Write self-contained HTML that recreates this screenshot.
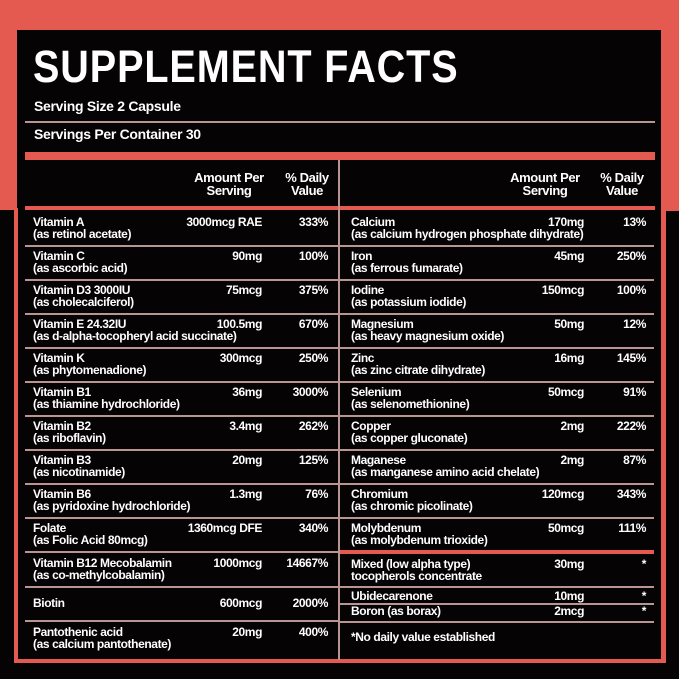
<!DOCTYPE html>
<html><head><meta charset="utf-8"><style>
*{margin:0;padding:0;box-sizing:border-box}
body{width:679px;height:679px;background:#050304;position:relative;overflow:hidden;font-family:"Liberation Sans Narrow","Liberation Sans",sans-serif;color:#fff;font-weight:bold}
.a{position:absolute}
.t{position:absolute;font-size:12px;line-height:11.5px;letter-spacing:-0.4px;white-space:nowrap}
.r{text-align:right}
.sep{position:absolute;height:2px;background:#b89592}
.cor{position:absolute;background:#e55a50}
</style></head><body>
<div class="cor" style="left:0;top:0;width:679px;height:30px"></div>
<div class="cor" style="left:0;top:0;width:17px;height:210px"></div>
<div class="cor" style="left:661px;top:0;width:18px;height:211px"></div>
<div class="a" style="left:33px;top:42px;font-size:45px;line-height:50px;letter-spacing:1px;font-family:'Liberation Sans',sans-serif;transform:scaleX(0.88);transform-origin:0 0;white-space:nowrap">SUPPLEMENT FACTS</div>
<div class="a" style="left:34px;top:98px;font-size:14px;letter-spacing:-0.3px">Serving Size 2 Capsule</div>
<div class="sep" style="left:25px;top:121px;width:630px;height:1.5px"></div>
<div class="a" style="left:34px;top:126px;font-size:14px;letter-spacing:-0.3px">Servings Per Container 30</div>
<div class="cor" style="left:25px;top:152px;width:630px;height:8px"></div>
<div class="cor" style="left:25px;top:206px;width:630px;height:4px"></div>
<div class="cor" style="left:14px;top:208px;width:4px;height:455px"></div>
<div class="cor" style="left:661px;top:208px;width:5px;height:455px"></div>
<div class="cor" style="left:14px;top:659px;width:652px;height:4px"></div>
<div class="a" style="left:338px;top:160px;width:1.5px;height:500px;background:#b89592"></div>
<div class="t" style="left:189px;top:171px;width:80px;text-align:center;font-size:13px;line-height:13px">Amount Per<br>Serving</div>
<div class="t" style="left:280px;top:171px;width:54px;text-align:center;font-size:13px;line-height:13px">% Daily<br>Value</div>
<div class="t" style="left:504px;top:171px;width:82px;text-align:center;font-size:13px;line-height:13px">Amount Per<br>Serving</div>
<div class="t" style="left:594px;top:171px;width:56px;text-align:center;font-size:13px;line-height:13px">% Daily<br>Value</div>

<div class="sep" style="left:25px;top:245px;width:313px"></div>
<div class="sep" style="left:25px;top:279px;width:313px"></div>
<div class="sep" style="left:25px;top:313px;width:313px"></div>
<div class="sep" style="left:25px;top:347px;width:313px"></div>
<div class="sep" style="left:25px;top:381px;width:313px"></div>
<div class="sep" style="left:25px;top:415px;width:313px"></div>
<div class="sep" style="left:25px;top:449px;width:313px"></div>
<div class="sep" style="left:25px;top:483px;width:313px"></div>
<div class="sep" style="left:25px;top:517px;width:313px"></div>
<div class="sep" style="left:25px;top:551px;width:313px"></div>
<div class="sep" style="left:25px;top:586px;width:313px"></div>
<div class="sep" style="left:25px;top:620px;width:313px"></div>

<div class="sep" style="left:340px;top:245px;width:314px"></div>
<div class="sep" style="left:340px;top:279px;width:314px"></div>
<div class="sep" style="left:340px;top:313px;width:314px"></div>
<div class="sep" style="left:340px;top:347px;width:314px"></div>
<div class="sep" style="left:340px;top:381px;width:314px"></div>
<div class="sep" style="left:340px;top:415px;width:314px"></div>
<div class="sep" style="left:340px;top:449px;width:314px"></div>
<div class="sep" style="left:340px;top:483px;width:314px"></div>
<div class="sep" style="left:340px;top:517px;width:314px"></div>
<div class="cor" style="left:340px;top:550px;width:314px;height:4px"></div>
<div class="sep" style="left:340px;top:586px;width:314px"></div>
<div class="sep" style="left:340px;top:603px;width:314px"></div>
<div class="sep" style="left:340px;top:621px;width:314px"></div>

<div class="t" style="left:33px;top:217px">Vitamin A<br>(as retinol acetate)</div><div class="t r" style="right:417px;top:217px">3000mcg RAE</div><div class="t r" style="right:351px;top:217px">333%</div>
<div class="t" style="left:33px;top:251px">Vitamin C<br>(as ascorbic acid)</div><div class="t r" style="right:417px;top:251px">90mg</div><div class="t r" style="right:351px;top:251px">100%</div>
<div class="t" style="left:33px;top:285px">Vitamin D3 3000IU<br>(as cholecalciferol)</div><div class="t r" style="right:417px;top:285px">75mcg</div><div class="t r" style="right:351px;top:285px">375%</div>
<div class="t" style="left:33px;top:319px">Vitamin E 24.32IU<br>(as d-alpha-tocopheryl acid succinate)</div><div class="t r" style="right:417px;top:319px">100.5mg</div><div class="t r" style="right:351px;top:319px">670%</div>
<div class="t" style="left:33px;top:353px">Vitamin K<br>(as phytomenadione)</div><div class="t r" style="right:417px;top:353px">300mcg</div><div class="t r" style="right:351px;top:353px">250%</div>
<div class="t" style="left:33px;top:387px">Vitamin B1<br>(as thiamine hydrochloride)</div><div class="t r" style="right:417px;top:387px">36mg</div><div class="t r" style="right:351px;top:387px">3000%</div>
<div class="t" style="left:33px;top:421px">Vitamin B2<br>(as riboflavin)</div><div class="t r" style="right:417px;top:421px">3.4mg</div><div class="t r" style="right:351px;top:421px">262%</div>
<div class="t" style="left:33px;top:455px">Vitamin B3<br>(as nicotinamide)</div><div class="t r" style="right:417px;top:455px">20mg</div><div class="t r" style="right:351px;top:455px">125%</div>
<div class="t" style="left:33px;top:489px">Vitamin B6<br>(as pyridoxine hydrochloride)</div><div class="t r" style="right:417px;top:489px">1.3mg</div><div class="t r" style="right:351px;top:489px">76%</div>
<div class="t" style="left:33px;top:523px">Folate<br>(as Folic Acid 80mcg)</div><div class="t r" style="right:417px;top:523px">1360mcg DFE</div><div class="t r" style="right:351px;top:523px">340%</div>
<div class="t" style="left:33px;top:558px">Vitamin B12 Mecobalamin<br>(as co-methylcobalamin)</div><div class="t r" style="right:417px;top:558px">1000mcg</div><div class="t r" style="right:351px;top:558px">14667%</div>
<div class="t" style="left:33px;top:598px">Biotin</div><div class="t r" style="right:417px;top:598px">600mcg</div><div class="t r" style="right:351px;top:598px">2000%</div>
<div class="t" style="left:33px;top:627px">Pantothenic acid<br>(as calcium pantothenate)</div><div class="t r" style="right:417px;top:627px">20mg</div><div class="t r" style="right:351px;top:627px">400%</div>

<div class="t" style="left:351px;top:217px">Calcium<br>(as calcium hydrogen phosphate dihydrate)</div><div class="t r" style="right:95px;top:217px">170mg</div><div class="t r" style="right:33px;top:217px">13%</div>
<div class="t" style="left:351px;top:251px">Iron<br>(as ferrous fumarate)</div><div class="t r" style="right:95px;top:251px">45mg</div><div class="t r" style="right:33px;top:251px">250%</div>
<div class="t" style="left:351px;top:285px">Iodine<br>(as potassium iodide)</div><div class="t r" style="right:95px;top:285px">150mcg</div><div class="t r" style="right:33px;top:285px">100%</div>
<div class="t" style="left:351px;top:319px">Magnesium<br>(as heavy magnesium oxide)</div><div class="t r" style="right:95px;top:319px">50mg</div><div class="t r" style="right:33px;top:319px">12%</div>
<div class="t" style="left:351px;top:353px">Zinc<br>(as zinc citrate dihydrate)</div><div class="t r" style="right:95px;top:353px">16mg</div><div class="t r" style="right:33px;top:353px">145%</div>
<div class="t" style="left:351px;top:387px">Selenium<br>(as selenomethionine)</div><div class="t r" style="right:95px;top:387px">50mcg</div><div class="t r" style="right:33px;top:387px">91%</div>
<div class="t" style="left:351px;top:421px">Copper<br>(as copper gluconate)</div><div class="t r" style="right:95px;top:421px">2mg</div><div class="t r" style="right:33px;top:421px">222%</div>
<div class="t" style="left:351px;top:455px">Maganese<br>(as manganese amino acid chelate)</div><div class="t r" style="right:95px;top:455px">2mg</div><div class="t r" style="right:33px;top:455px">87%</div>
<div class="t" style="left:351px;top:489px">Chromium<br>(as chromic picolinate)</div><div class="t r" style="right:95px;top:489px">120mcg</div><div class="t r" style="right:33px;top:489px">343%</div>
<div class="t" style="left:351px;top:523px">Molybdenum<br>(as molybdenum trioxide)</div><div class="t r" style="right:95px;top:523px">50mcg</div><div class="t r" style="right:33px;top:523px">111%</div>
<div class="t" style="left:351px;top:559px">Mixed (low alpha type)<br>tocopherols concentrate</div><div class="t r" style="right:95px;top:559px">30mg</div><div class="t r" style="right:33px;top:559px">*</div>
<div class="t" style="left:351px;top:591px">Ubidecarenone</div><div class="t r" style="right:95px;top:591px">10mg</div><div class="t r" style="right:33px;top:591px">*</div>
<div class="t" style="left:351px;top:606px">Boron (as borax)</div><div class="t r" style="right:95px;top:606px">2mcg</div><div class="t r" style="right:33px;top:606px">*</div>
<div class="t" style="left:351px;top:632px">*No daily value established</div>
</body></html>
